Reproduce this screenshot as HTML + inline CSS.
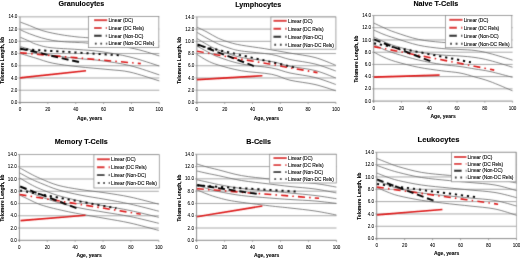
<!DOCTYPE html>
<html><head><meta charset="utf-8"><style>
html,body{margin:0;padding:0;background:#fff;overflow:hidden;}
svg{display:block;will-change:transform;}
text{font-family:"Liberation Sans", sans-serif;fill:#000;stroke:#000;stroke-width:0;}
.lg{stroke-width:0.08px;}
.tk{stroke-width:0.05px;}
.ax{stroke-width:0.08px;}
.ti{stroke-width:0.1px;}
</style></head><body>
<svg width="520" height="258" viewBox="0 0 520 258">
<defs><filter id="bl" filterUnits="userSpaceOnUse" x="0" y="0" width="520" height="258"><feConvolveMatrix order="3" kernelMatrix="0.0144 0.0912 0.0144 0.0912 0.5776 0.0912 0.0144 0.0912 0.0144" edgeMode="none"/></filter></defs>
<rect width="520" height="258" fill="#fff"/>
<g filter="url(#bl)">
<line x1="20.00" y1="90.22" x2="159.30" y2="90.22" stroke="#a8a8a8" stroke-width="1"/>
<line x1="20.00" y1="77.99" x2="159.30" y2="77.99" stroke="#a8a8a8" stroke-width="1"/>
<line x1="20.00" y1="65.76" x2="159.30" y2="65.76" stroke="#a8a8a8" stroke-width="1"/>
<line x1="20.00" y1="53.54" x2="159.30" y2="53.54" stroke="#a8a8a8" stroke-width="1"/>
<line x1="20.00" y1="41.31" x2="159.30" y2="41.31" stroke="#a8a8a8" stroke-width="1"/>
<line x1="20.00" y1="29.08" x2="159.30" y2="29.08" stroke="#a8a8a8" stroke-width="1"/>
<line x1="20.00" y1="16.85" x2="159.30" y2="16.85" stroke="#a8a8a8" stroke-width="1"/>
<path d="M20.30 22.10 C21.85 22.68 26.10 24.23 29.60 25.60 C33.10 26.97 37.42 29.03 41.30 30.30 C45.18 31.57 49.03 32.37 52.90 33.20 C56.77 34.03 60.32 34.67 64.50 35.30 C68.68 35.93 74.02 36.58 78.00 37.00 C81.98 37.42 79.73 37.13 88.40 37.80 C97.07 38.47 118.18 39.63 130.00 41.00 C141.82 42.37 154.42 45.17 159.30 46.00" fill="none" stroke="#666666" stroke-width="0.8"/>
<path d="M20.30 29.80 C21.85 30.47 26.10 32.47 29.60 33.80 C33.10 35.13 37.42 36.68 41.30 37.80 C45.18 38.92 49.03 39.83 52.90 40.50 C56.77 41.17 60.32 41.47 64.50 41.80 C68.68 42.13 74.02 42.27 78.00 42.50 C81.98 42.73 79.73 42.32 88.40 43.20 C97.07 44.08 118.18 45.68 130.00 47.80 C141.82 49.92 154.42 54.55 159.30 55.90" fill="none" stroke="#666666" stroke-width="0.8"/>
<path d="M20.30 37.30 C21.85 37.97 27.08 40.18 29.60 41.30 C32.12 42.42 32.00 42.95 35.40 44.00 C38.80 45.05 42.90 46.68 50.00 47.60 C57.10 48.52 69.67 48.85 78.00 49.50 C86.33 50.15 91.33 50.25 100.00 51.50 C108.67 52.75 120.12 54.58 130.00 57.00 C139.88 59.42 154.42 64.50 159.30 66.00" fill="none" stroke="#666666" stroke-width="0.8"/>
<path d="M20.30 46.50 C22.75 47.25 30.05 49.58 35.00 51.00 C39.95 52.42 42.83 53.75 50.00 55.00 C57.17 56.25 69.67 57.58 78.00 58.50 C86.33 59.42 91.33 59.32 100.00 60.50 C108.67 61.68 120.12 63.20 130.00 65.60 C139.88 68.00 154.42 73.35 159.30 74.90" fill="none" stroke="#666666" stroke-width="0.8"/>
<path d="M20.30 53.60 C22.82 54.33 29.97 56.40 35.40 58.00 C40.83 59.60 45.80 61.75 52.90 63.20 C60.00 64.65 68.82 65.65 78.00 66.70 C87.18 67.75 99.33 68.60 108.00 69.50 C116.67 70.40 121.45 70.20 130.00 72.10 C138.55 74.00 154.42 79.43 159.30 80.90" fill="none" stroke="#666666" stroke-width="0.8"/>
<line x1="20.00" y1="16.85" x2="20.00" y2="103.95" stroke="#8a8a8a" stroke-width="1"/>
<line x1="18.50" y1="102.45" x2="159.30" y2="102.45" stroke="#8a8a8a" stroke-width="1"/>
<line x1="18.50" y1="102.45" x2="20.00" y2="102.45" stroke="#8a8a8a" stroke-width="0.8"/>
<line x1="18.50" y1="90.22" x2="20.00" y2="90.22" stroke="#8a8a8a" stroke-width="0.8"/>
<line x1="18.50" y1="77.99" x2="20.00" y2="77.99" stroke="#8a8a8a" stroke-width="0.8"/>
<line x1="18.50" y1="65.76" x2="20.00" y2="65.76" stroke="#8a8a8a" stroke-width="0.8"/>
<line x1="18.50" y1="53.54" x2="20.00" y2="53.54" stroke="#8a8a8a" stroke-width="0.8"/>
<line x1="18.50" y1="41.31" x2="20.00" y2="41.31" stroke="#8a8a8a" stroke-width="0.8"/>
<line x1="18.50" y1="29.08" x2="20.00" y2="29.08" stroke="#8a8a8a" stroke-width="0.8"/>
<line x1="18.50" y1="16.85" x2="20.00" y2="16.85" stroke="#8a8a8a" stroke-width="0.8"/>
<line x1="20.00" y1="102.45" x2="20.00" y2="103.95" stroke="#8a8a8a" stroke-width="0.8"/>
<line x1="47.86" y1="102.45" x2="47.86" y2="103.95" stroke="#8a8a8a" stroke-width="0.8"/>
<line x1="75.72" y1="102.45" x2="75.72" y2="103.95" stroke="#8a8a8a" stroke-width="0.8"/>
<line x1="103.58" y1="102.45" x2="103.58" y2="103.95" stroke="#8a8a8a" stroke-width="0.8"/>
<line x1="131.44" y1="102.45" x2="131.44" y2="103.95" stroke="#8a8a8a" stroke-width="0.8"/>
<line x1="159.30" y1="102.45" x2="159.30" y2="103.95" stroke="#8a8a8a" stroke-width="0.8"/>
<line x1="20.00" y1="77.90" x2="86.00" y2="70.70" stroke="#dc1414" stroke-width="1.6"/>
<line x1="20.00" y1="52.70" x2="140.80" y2="63.60" stroke="#dc1414" stroke-width="1.6" stroke-dasharray="7 4.2 1.5 4.2"/>
<line x1="20.00" y1="48.50" x2="79.90" y2="62.30" stroke="#000" stroke-width="2.0" stroke-dasharray="7 3.7"/>
<line x1="20.00" y1="49.10" x2="120.70" y2="55.30" stroke="#000" stroke-width="2.0" stroke-dasharray="2.2 3.85"/>
<rect x="88.40" y="16.40" width="70.40" height="31.20" fill="#fff" stroke="#8a8a8a" stroke-width="0.8"/>
<line x1="94.00" y1="20.20" x2="107.20" y2="20.20" stroke="#dc1414" stroke-width="1.9"/>
<line x1="94.00" y1="28.00" x2="107.20" y2="28.00" stroke="#dc1414" stroke-width="1.9" stroke-dasharray="7.6 4.2 1.2 10"/>
<line x1="94.00" y1="35.80" x2="107.20" y2="35.80" stroke="#000" stroke-width="1.9" stroke-dasharray="7.6 4.2 1.2 10"/>
<line x1="94.00" y1="43.60" x2="107.20" y2="43.60" stroke="#000" stroke-width="1.9" stroke-dasharray="1.7 3.8" stroke-dashoffset="4.6"/>
<line x1="196.90" y1="90.19" x2="335.90" y2="90.19" stroke="#a8a8a8" stroke-width="1"/>
<line x1="196.90" y1="77.97" x2="335.90" y2="77.97" stroke="#a8a8a8" stroke-width="1"/>
<line x1="196.90" y1="65.76" x2="335.90" y2="65.76" stroke="#a8a8a8" stroke-width="1"/>
<line x1="196.90" y1="53.54" x2="335.90" y2="53.54" stroke="#a8a8a8" stroke-width="1"/>
<line x1="196.90" y1="41.33" x2="335.90" y2="41.33" stroke="#a8a8a8" stroke-width="1"/>
<line x1="196.90" y1="29.11" x2="335.90" y2="29.11" stroke="#a8a8a8" stroke-width="1"/>
<line x1="196.90" y1="16.90" x2="335.90" y2="16.90" stroke="#a8a8a8" stroke-width="1"/>
<path d="M197.00 27.20 C198.67 28.00 203.45 30.15 207.00 32.00 C210.55 33.85 214.47 36.55 218.30 38.30 C222.13 40.05 226.13 41.35 230.00 42.50 C233.87 43.65 235.70 44.17 241.50 45.20 C247.30 46.23 256.72 47.38 264.80 48.70 C272.88 50.02 281.63 51.63 290.00 53.10 C298.37 54.57 307.37 55.47 315.00 57.50 C322.63 59.53 332.33 64.00 335.80 65.30" fill="none" stroke="#666666" stroke-width="0.8"/>
<path d="M197.00 32.40 C198.67 33.37 203.45 36.27 207.00 38.20 C210.55 40.13 214.47 42.32 218.30 44.00 C222.13 45.68 226.13 47.13 230.00 48.30 C233.87 49.47 234.55 49.97 241.50 51.00 C248.45 52.03 263.62 53.08 271.70 54.50 C279.78 55.92 282.78 57.92 290.00 59.50 C297.22 61.08 307.37 62.08 315.00 64.00 C322.63 65.92 332.33 69.83 335.80 71.00" fill="none" stroke="#666666" stroke-width="0.8"/>
<path d="M197.00 38.50 C198.67 39.50 203.45 42.58 207.00 44.50 C210.55 46.42 212.55 47.83 218.30 50.00 C224.05 52.17 232.60 55.58 241.50 57.50 C250.40 59.42 263.62 60.03 271.70 61.50 C279.78 62.97 282.78 64.80 290.00 66.30 C297.22 67.80 307.37 68.55 315.00 70.50 C322.63 72.45 332.33 76.75 335.80 78.00" fill="none" stroke="#666666" stroke-width="0.8"/>
<path d="M197.00 46.00 C198.67 46.92 203.45 49.67 207.00 51.50 C210.55 53.33 212.55 54.92 218.30 57.00 C224.05 59.08 232.60 62.17 241.50 64.00 C250.40 65.83 263.62 66.50 271.70 68.00 C279.78 69.50 282.78 71.42 290.00 73.00 C297.22 74.58 307.37 75.58 315.00 77.50 C322.63 79.42 332.33 83.33 335.80 84.50" fill="none" stroke="#666666" stroke-width="0.8"/>
<path d="M197.00 54.40 C198.67 55.42 203.45 58.73 207.00 60.50 C210.55 62.27 212.55 63.28 218.30 65.00 C224.05 66.72 232.60 69.25 241.50 70.80 C250.40 72.35 263.62 72.73 271.70 74.30 C279.78 75.87 282.78 78.50 290.00 80.20 C297.22 81.90 307.37 82.73 315.00 84.50 C322.63 86.27 332.33 89.75 335.80 90.80" fill="none" stroke="#666666" stroke-width="0.8"/>
<line x1="196.90" y1="16.90" x2="196.90" y2="103.90" stroke="#8a8a8a" stroke-width="1"/>
<line x1="195.40" y1="102.40" x2="335.90" y2="102.40" stroke="#8a8a8a" stroke-width="1"/>
<line x1="195.40" y1="102.40" x2="196.90" y2="102.40" stroke="#8a8a8a" stroke-width="0.8"/>
<line x1="195.40" y1="90.19" x2="196.90" y2="90.19" stroke="#8a8a8a" stroke-width="0.8"/>
<line x1="195.40" y1="77.97" x2="196.90" y2="77.97" stroke="#8a8a8a" stroke-width="0.8"/>
<line x1="195.40" y1="65.76" x2="196.90" y2="65.76" stroke="#8a8a8a" stroke-width="0.8"/>
<line x1="195.40" y1="53.54" x2="196.90" y2="53.54" stroke="#8a8a8a" stroke-width="0.8"/>
<line x1="195.40" y1="41.33" x2="196.90" y2="41.33" stroke="#8a8a8a" stroke-width="0.8"/>
<line x1="195.40" y1="29.11" x2="196.90" y2="29.11" stroke="#8a8a8a" stroke-width="0.8"/>
<line x1="195.40" y1="16.90" x2="196.90" y2="16.90" stroke="#8a8a8a" stroke-width="0.8"/>
<line x1="196.90" y1="102.40" x2="196.90" y2="103.90" stroke="#8a8a8a" stroke-width="0.8"/>
<line x1="224.70" y1="102.40" x2="224.70" y2="103.90" stroke="#8a8a8a" stroke-width="0.8"/>
<line x1="252.50" y1="102.40" x2="252.50" y2="103.90" stroke="#8a8a8a" stroke-width="0.8"/>
<line x1="280.30" y1="102.40" x2="280.30" y2="103.90" stroke="#8a8a8a" stroke-width="0.8"/>
<line x1="308.10" y1="102.40" x2="308.10" y2="103.90" stroke="#8a8a8a" stroke-width="0.8"/>
<line x1="335.90" y1="102.40" x2="335.90" y2="103.90" stroke="#8a8a8a" stroke-width="0.8"/>
<line x1="196.90" y1="79.60" x2="262.40" y2="75.80" stroke="#dc1414" stroke-width="1.6"/>
<line x1="196.90" y1="51.30" x2="317.50" y2="72.60" stroke="#dc1414" stroke-width="1.6" stroke-dasharray="7 4.2 1.5 4.2"/>
<line x1="197.50" y1="44.40" x2="256.60" y2="67.10" stroke="#000" stroke-width="2.0" stroke-dasharray="7 3.7"/>
<line x1="197.50" y1="45.30" x2="294.70" y2="67.40" stroke="#000" stroke-width="2.0" stroke-dasharray="2.2 3.85"/>
<rect x="270.90" y="17.00" width="65.00" height="32.20" fill="#fff" stroke="#8a8a8a" stroke-width="0.8"/>
<line x1="273.50" y1="20.80" x2="286.70" y2="20.80" stroke="#dc1414" stroke-width="1.9"/>
<line x1="273.50" y1="28.80" x2="286.70" y2="28.80" stroke="#dc1414" stroke-width="1.9" stroke-dasharray="7.6 4.2 1.2 10"/>
<line x1="273.50" y1="36.80" x2="286.70" y2="36.80" stroke="#000" stroke-width="1.9" stroke-dasharray="7.6 4.2 1.2 10"/>
<line x1="273.50" y1="44.80" x2="286.70" y2="44.80" stroke="#000" stroke-width="1.9" stroke-dasharray="1.7 3.8" stroke-dashoffset="4.6"/>
<line x1="373.70" y1="88.87" x2="512.60" y2="88.87" stroke="#a8a8a8" stroke-width="1"/>
<line x1="373.70" y1="76.64" x2="512.60" y2="76.64" stroke="#a8a8a8" stroke-width="1"/>
<line x1="373.70" y1="64.41" x2="512.60" y2="64.41" stroke="#a8a8a8" stroke-width="1"/>
<line x1="373.70" y1="52.19" x2="512.60" y2="52.19" stroke="#a8a8a8" stroke-width="1"/>
<line x1="373.70" y1="39.96" x2="512.60" y2="39.96" stroke="#a8a8a8" stroke-width="1"/>
<line x1="373.70" y1="27.73" x2="512.60" y2="27.73" stroke="#a8a8a8" stroke-width="1"/>
<line x1="373.70" y1="15.50" x2="512.60" y2="15.50" stroke="#a8a8a8" stroke-width="1"/>
<path d="M373.90 23.10 C375.58 23.88 380.43 26.25 384.00 27.80 C387.57 29.35 389.55 30.47 395.30 32.40 C401.05 34.33 410.75 37.75 418.50 39.40 C426.25 41.05 433.22 41.53 441.80 42.30 C450.38 43.07 461.97 43.47 470.00 44.00 C478.03 44.53 482.92 44.92 490.00 45.50 C497.08 46.08 508.75 47.17 512.50 47.50" fill="none" stroke="#666666" stroke-width="0.8"/>
<path d="M373.90 30.10 C375.58 30.83 380.43 33.13 384.00 34.50 C387.57 35.87 389.55 36.52 395.30 38.30 C401.05 40.08 410.75 43.50 418.50 45.20 C426.25 46.90 434.88 47.78 441.80 48.50 C448.72 49.22 454.47 49.17 460.00 49.50 C465.53 49.83 470.00 49.83 475.00 50.50 C480.00 51.17 483.75 51.90 490.00 53.50 C496.25 55.10 508.75 59.00 512.50 60.10" fill="none" stroke="#666666" stroke-width="0.8"/>
<path d="M373.90 37.10 C375.58 37.88 380.43 40.32 384.00 41.80 C387.57 43.28 389.55 44.30 395.30 46.00 C401.05 47.70 410.75 50.50 418.50 52.00 C426.25 53.50 434.88 54.33 441.80 55.00 C448.72 55.67 454.47 55.58 460.00 56.00 C465.53 56.42 470.00 56.75 475.00 57.50 C480.00 58.25 483.75 58.88 490.00 60.50 C496.25 62.12 508.75 66.08 512.50 67.20" fill="none" stroke="#666666" stroke-width="0.8"/>
<path d="M373.90 44.50 C375.58 45.33 380.43 48.00 384.00 49.50 C387.57 51.00 389.55 51.75 395.30 53.50 C401.05 55.25 410.75 58.17 418.50 60.00 C426.25 61.83 434.88 63.42 441.80 64.50 C448.72 65.58 454.47 65.75 460.00 66.50 C465.53 67.25 470.00 68.17 475.00 69.00 C480.00 69.83 483.75 70.12 490.00 71.50 C496.25 72.88 508.75 76.33 512.50 77.30" fill="none" stroke="#666666" stroke-width="0.8"/>
<path d="M373.90 52.20 C375.58 53.05 380.43 55.75 384.00 57.30 C387.57 58.85 389.55 59.83 395.30 61.50 C401.05 63.17 410.75 65.75 418.50 67.30 C426.25 68.85 434.88 69.85 441.80 70.80 C448.72 71.75 454.47 71.97 460.00 73.00 C465.53 74.03 470.00 75.58 475.00 77.00 C480.00 78.42 483.75 79.20 490.00 81.50 C496.25 83.80 508.75 89.25 512.50 90.80" fill="none" stroke="#666666" stroke-width="0.8"/>
<line x1="373.70" y1="15.50" x2="373.70" y2="102.60" stroke="#8a8a8a" stroke-width="1"/>
<line x1="372.20" y1="101.10" x2="512.60" y2="101.10" stroke="#8a8a8a" stroke-width="1"/>
<line x1="372.20" y1="101.10" x2="373.70" y2="101.10" stroke="#8a8a8a" stroke-width="0.8"/>
<line x1="372.20" y1="88.87" x2="373.70" y2="88.87" stroke="#8a8a8a" stroke-width="0.8"/>
<line x1="372.20" y1="76.64" x2="373.70" y2="76.64" stroke="#8a8a8a" stroke-width="0.8"/>
<line x1="372.20" y1="64.41" x2="373.70" y2="64.41" stroke="#8a8a8a" stroke-width="0.8"/>
<line x1="372.20" y1="52.19" x2="373.70" y2="52.19" stroke="#8a8a8a" stroke-width="0.8"/>
<line x1="372.20" y1="39.96" x2="373.70" y2="39.96" stroke="#8a8a8a" stroke-width="0.8"/>
<line x1="372.20" y1="27.73" x2="373.70" y2="27.73" stroke="#8a8a8a" stroke-width="0.8"/>
<line x1="372.20" y1="15.50" x2="373.70" y2="15.50" stroke="#8a8a8a" stroke-width="0.8"/>
<line x1="373.70" y1="101.10" x2="373.70" y2="102.60" stroke="#8a8a8a" stroke-width="0.8"/>
<line x1="401.48" y1="101.10" x2="401.48" y2="102.60" stroke="#8a8a8a" stroke-width="0.8"/>
<line x1="429.26" y1="101.10" x2="429.26" y2="102.60" stroke="#8a8a8a" stroke-width="0.8"/>
<line x1="457.04" y1="101.10" x2="457.04" y2="102.60" stroke="#8a8a8a" stroke-width="0.8"/>
<line x1="484.82" y1="101.10" x2="484.82" y2="102.60" stroke="#8a8a8a" stroke-width="0.8"/>
<line x1="512.60" y1="101.10" x2="512.60" y2="102.60" stroke="#8a8a8a" stroke-width="0.8"/>
<line x1="373.90" y1="77.10" x2="439.60" y2="75.10" stroke="#dc1414" stroke-width="1.6"/>
<line x1="373.90" y1="46.60" x2="494.20" y2="70.10" stroke="#dc1414" stroke-width="1.6" stroke-dasharray="7 4.2 1.5 4.2"/>
<line x1="373.90" y1="39.40" x2="433.60" y2="62.40" stroke="#000" stroke-width="2.0" stroke-dasharray="7 3.7"/>
<line x1="373.90" y1="43.30" x2="470.90" y2="62.30" stroke="#000" stroke-width="2.0" stroke-dasharray="2.2 3.85"/>
<rect x="445.40" y="15.40" width="66.40" height="32.30" fill="#fff" stroke="#8a8a8a" stroke-width="0.8"/>
<line x1="449.30" y1="19.80" x2="462.50" y2="19.80" stroke="#dc1414" stroke-width="1.9"/>
<line x1="449.30" y1="27.80" x2="462.50" y2="27.80" stroke="#dc1414" stroke-width="1.9" stroke-dasharray="7.6 4.2 1.2 10"/>
<line x1="449.30" y1="35.80" x2="462.50" y2="35.80" stroke="#000" stroke-width="1.9" stroke-dasharray="7.6 4.2 1.2 10"/>
<line x1="449.30" y1="43.80" x2="462.50" y2="43.80" stroke="#000" stroke-width="1.9" stroke-dasharray="1.7 3.8" stroke-dashoffset="4.6"/>
<line x1="19.40" y1="228.04" x2="158.80" y2="228.04" stroke="#a8a8a8" stroke-width="1"/>
<line x1="19.40" y1="215.79" x2="158.80" y2="215.79" stroke="#a8a8a8" stroke-width="1"/>
<line x1="19.40" y1="203.53" x2="158.80" y2="203.53" stroke="#a8a8a8" stroke-width="1"/>
<line x1="19.40" y1="191.27" x2="158.80" y2="191.27" stroke="#a8a8a8" stroke-width="1"/>
<line x1="19.40" y1="179.01" x2="158.80" y2="179.01" stroke="#a8a8a8" stroke-width="1"/>
<line x1="19.40" y1="166.76" x2="158.80" y2="166.76" stroke="#a8a8a8" stroke-width="1"/>
<line x1="19.40" y1="154.50" x2="158.80" y2="154.50" stroke="#a8a8a8" stroke-width="1"/>
<path d="M19.50 167.70 C21.25 168.67 26.53 171.70 30.00 173.50 C33.47 175.30 35.63 176.53 40.30 178.50 C44.97 180.47 51.38 183.47 58.00 185.30 C64.62 187.13 72.17 188.25 80.00 189.50 C87.83 190.75 96.67 191.55 105.00 192.80 C113.33 194.05 121.03 195.10 130.00 197.00 C138.97 198.90 154.00 203.00 158.80 204.20" fill="none" stroke="#666666" stroke-width="0.8"/>
<path d="M19.50 172.80 C21.25 173.75 26.53 176.80 30.00 178.50 C33.47 180.20 35.63 181.12 40.30 183.00 C44.97 184.88 51.38 187.80 58.00 189.80 C64.62 191.80 72.17 193.42 80.00 195.00 C87.83 196.58 96.67 197.80 105.00 199.30 C113.33 200.80 121.03 202.02 130.00 204.00 C138.97 205.98 154.00 210.00 158.80 211.20" fill="none" stroke="#666666" stroke-width="0.8"/>
<path d="M19.50 177.80 C21.25 178.83 26.53 182.13 30.00 184.00 C33.47 185.87 35.63 187.08 40.30 189.00 C44.97 190.92 51.38 193.50 58.00 195.50 C64.62 197.50 72.17 199.25 80.00 201.00 C87.83 202.75 96.67 204.42 105.00 206.00 C113.33 207.58 121.03 208.62 130.00 210.50 C138.97 212.38 154.00 216.17 158.80 217.30" fill="none" stroke="#666666" stroke-width="0.8"/>
<path d="M19.50 186.00 C21.25 187.00 26.53 190.25 30.00 192.00 C33.47 193.75 35.63 194.75 40.30 196.50 C44.97 198.25 51.38 200.58 58.00 202.50 C64.62 204.42 72.17 206.37 80.00 208.00 C87.83 209.63 96.67 210.88 105.00 212.30 C113.33 213.72 121.03 214.67 130.00 216.50 C138.97 218.33 154.00 222.17 158.80 223.30" fill="none" stroke="#666666" stroke-width="0.8"/>
<path d="M19.50 195.00 C21.25 195.83 26.83 198.50 30.00 200.00 C33.17 201.50 35.17 202.75 38.50 204.00 C41.83 205.25 45.58 206.33 50.00 207.50 C54.42 208.67 60.00 209.92 65.00 211.00 C70.00 212.08 73.33 212.77 80.00 214.00 C86.67 215.23 96.67 216.90 105.00 218.40 C113.33 219.90 121.03 221.00 130.00 223.00 C138.97 225.00 154.00 229.17 158.80 230.40" fill="none" stroke="#666666" stroke-width="0.8"/>
<line x1="19.40" y1="154.50" x2="19.40" y2="241.80" stroke="#8a8a8a" stroke-width="1"/>
<line x1="17.90" y1="240.30" x2="158.80" y2="240.30" stroke="#8a8a8a" stroke-width="1"/>
<line x1="17.90" y1="240.30" x2="19.40" y2="240.30" stroke="#8a8a8a" stroke-width="0.8"/>
<line x1="17.90" y1="228.04" x2="19.40" y2="228.04" stroke="#8a8a8a" stroke-width="0.8"/>
<line x1="17.90" y1="215.79" x2="19.40" y2="215.79" stroke="#8a8a8a" stroke-width="0.8"/>
<line x1="17.90" y1="203.53" x2="19.40" y2="203.53" stroke="#8a8a8a" stroke-width="0.8"/>
<line x1="17.90" y1="191.27" x2="19.40" y2="191.27" stroke="#8a8a8a" stroke-width="0.8"/>
<line x1="17.90" y1="179.01" x2="19.40" y2="179.01" stroke="#8a8a8a" stroke-width="0.8"/>
<line x1="17.90" y1="166.76" x2="19.40" y2="166.76" stroke="#8a8a8a" stroke-width="0.8"/>
<line x1="17.90" y1="154.50" x2="19.40" y2="154.50" stroke="#8a8a8a" stroke-width="0.8"/>
<line x1="19.40" y1="240.30" x2="19.40" y2="241.80" stroke="#8a8a8a" stroke-width="0.8"/>
<line x1="47.28" y1="240.30" x2="47.28" y2="241.80" stroke="#8a8a8a" stroke-width="0.8"/>
<line x1="75.16" y1="240.30" x2="75.16" y2="241.80" stroke="#8a8a8a" stroke-width="0.8"/>
<line x1="103.04" y1="240.30" x2="103.04" y2="241.80" stroke="#8a8a8a" stroke-width="0.8"/>
<line x1="130.92" y1="240.30" x2="130.92" y2="241.80" stroke="#8a8a8a" stroke-width="0.8"/>
<line x1="158.80" y1="240.30" x2="158.80" y2="241.80" stroke="#8a8a8a" stroke-width="0.8"/>
<line x1="20.50" y1="220.60" x2="85.60" y2="215.20" stroke="#dc1414" stroke-width="1.6"/>
<line x1="19.50" y1="194.50" x2="140.80" y2="214.20" stroke="#dc1414" stroke-width="1.6" stroke-dasharray="7 4.2 1.5 4.2"/>
<line x1="20.00" y1="186.50" x2="79.80" y2="209.40" stroke="#000" stroke-width="2.0" stroke-dasharray="7 3.7"/>
<line x1="20.00" y1="190.50" x2="116.40" y2="208.30" stroke="#000" stroke-width="2.0" stroke-dasharray="2.2 3.85"/>
<rect x="93.90" y="154.70" width="65.40" height="33.30" fill="#fff" stroke="#8a8a8a" stroke-width="0.8"/>
<line x1="96.90" y1="159.30" x2="109.90" y2="159.30" stroke="#dc1414" stroke-width="1.9"/>
<line x1="96.90" y1="167.20" x2="109.90" y2="167.20" stroke="#dc1414" stroke-width="1.9" stroke-dasharray="7.6 4.2 1.2 10"/>
<line x1="96.90" y1="175.10" x2="109.90" y2="175.10" stroke="#000" stroke-width="1.9" stroke-dasharray="7.6 4.2 1.2 10"/>
<line x1="96.90" y1="183.00" x2="109.90" y2="183.00" stroke="#000" stroke-width="1.9" stroke-dasharray="1.7 3.8" stroke-dashoffset="4.6"/>
<line x1="196.60" y1="228.01" x2="336.50" y2="228.01" stroke="#a8a8a8" stroke-width="1"/>
<line x1="196.60" y1="215.73" x2="336.50" y2="215.73" stroke="#a8a8a8" stroke-width="1"/>
<line x1="196.60" y1="203.44" x2="336.50" y2="203.44" stroke="#a8a8a8" stroke-width="1"/>
<line x1="196.60" y1="191.16" x2="336.50" y2="191.16" stroke="#a8a8a8" stroke-width="1"/>
<line x1="196.60" y1="178.87" x2="336.50" y2="178.87" stroke="#a8a8a8" stroke-width="1"/>
<line x1="196.60" y1="166.59" x2="336.50" y2="166.59" stroke="#a8a8a8" stroke-width="1"/>
<line x1="196.60" y1="154.30" x2="336.50" y2="154.30" stroke="#a8a8a8" stroke-width="1"/>
<path d="M196.90 164.00 C198.58 164.50 203.43 166.03 207.00 167.00 C210.57 167.97 212.55 168.37 218.30 169.80 C224.05 171.23 232.98 174.07 241.50 175.60 C250.02 177.13 261.32 178.02 269.40 179.00 C277.48 179.98 282.40 180.75 290.00 181.50 C297.60 182.25 307.27 182.57 315.00 183.50 C322.73 184.43 332.83 186.50 336.40 187.10" fill="none" stroke="#666666" stroke-width="0.8"/>
<path d="M196.90 171.00 C198.58 171.38 203.43 172.53 207.00 173.30 C210.57 174.07 212.55 174.40 218.30 175.60 C224.05 176.80 232.98 179.10 241.50 180.50 C250.02 181.90 261.32 183.00 269.40 184.00 C277.48 185.00 282.40 185.67 290.00 186.50 C297.60 187.33 307.27 187.93 315.00 189.00 C322.73 190.07 332.83 192.25 336.40 192.90" fill="none" stroke="#666666" stroke-width="0.8"/>
<path d="M196.90 179.80 C198.58 180.17 203.43 181.22 207.00 182.00 C210.57 182.78 212.55 183.42 218.30 184.50 C224.05 185.58 232.98 187.42 241.50 188.50 C250.02 189.58 261.32 190.25 269.40 191.00 C277.48 191.75 282.40 192.25 290.00 193.00 C297.60 193.75 307.27 194.55 315.00 195.50 C322.73 196.45 332.83 198.17 336.40 198.70" fill="none" stroke="#666666" stroke-width="0.8"/>
<path d="M196.90 185.00 C198.58 185.58 203.43 187.42 207.00 188.50 C210.57 189.58 212.55 190.33 218.30 191.50 C224.05 192.67 232.98 194.42 241.50 195.50 C250.02 196.58 261.32 197.33 269.40 198.00 C277.48 198.67 282.40 199.00 290.00 199.50 C297.60 200.00 307.27 200.35 315.00 201.00 C322.73 201.65 332.83 203.00 336.40 203.40" fill="none" stroke="#666666" stroke-width="0.8"/>
<path d="M196.90 189.80 C198.58 190.50 203.43 192.68 207.00 194.00 C210.57 195.32 213.72 196.48 218.30 197.70 C222.88 198.92 225.98 199.95 234.50 201.30 C243.02 202.65 260.15 204.68 269.40 205.80 C278.65 206.92 282.40 207.13 290.00 208.00 C297.60 208.87 307.27 209.83 315.00 211.00 C322.73 212.17 332.83 214.33 336.40 215.00" fill="none" stroke="#666666" stroke-width="0.8"/>
<line x1="196.60" y1="154.30" x2="196.60" y2="241.80" stroke="#8a8a8a" stroke-width="1"/>
<line x1="195.10" y1="240.30" x2="336.50" y2="240.30" stroke="#8a8a8a" stroke-width="1"/>
<line x1="195.10" y1="240.30" x2="196.60" y2="240.30" stroke="#8a8a8a" stroke-width="0.8"/>
<line x1="195.10" y1="228.01" x2="196.60" y2="228.01" stroke="#8a8a8a" stroke-width="0.8"/>
<line x1="195.10" y1="215.73" x2="196.60" y2="215.73" stroke="#8a8a8a" stroke-width="0.8"/>
<line x1="195.10" y1="203.44" x2="196.60" y2="203.44" stroke="#8a8a8a" stroke-width="0.8"/>
<line x1="195.10" y1="191.16" x2="196.60" y2="191.16" stroke="#8a8a8a" stroke-width="0.8"/>
<line x1="195.10" y1="178.87" x2="196.60" y2="178.87" stroke="#8a8a8a" stroke-width="0.8"/>
<line x1="195.10" y1="166.59" x2="196.60" y2="166.59" stroke="#8a8a8a" stroke-width="0.8"/>
<line x1="195.10" y1="154.30" x2="196.60" y2="154.30" stroke="#8a8a8a" stroke-width="0.8"/>
<line x1="196.60" y1="240.30" x2="196.60" y2="241.80" stroke="#8a8a8a" stroke-width="0.8"/>
<line x1="224.58" y1="240.30" x2="224.58" y2="241.80" stroke="#8a8a8a" stroke-width="0.8"/>
<line x1="252.56" y1="240.30" x2="252.56" y2="241.80" stroke="#8a8a8a" stroke-width="0.8"/>
<line x1="280.54" y1="240.30" x2="280.54" y2="241.80" stroke="#8a8a8a" stroke-width="0.8"/>
<line x1="308.52" y1="240.30" x2="308.52" y2="241.80" stroke="#8a8a8a" stroke-width="0.8"/>
<line x1="336.50" y1="240.30" x2="336.50" y2="241.80" stroke="#8a8a8a" stroke-width="0.8"/>
<line x1="196.90" y1="216.70" x2="262.40" y2="206.00" stroke="#dc1414" stroke-width="1.6"/>
<line x1="196.90" y1="188.70" x2="319.00" y2="198.30" stroke="#dc1414" stroke-width="1.6" stroke-dasharray="7 4.2 1.5 4.2"/>
<line x1="196.90" y1="185.00" x2="257.80" y2="194.00" stroke="#000" stroke-width="2.0" stroke-dasharray="7 3.7"/>
<line x1="196.90" y1="185.40" x2="296.00" y2="191.60" stroke="#000" stroke-width="2.0" stroke-dasharray="2.2 3.85"/>
<rect x="269.70" y="154.30" width="66.60" height="28.70" fill="#fff" stroke="#8a8a8a" stroke-width="0.8"/>
<line x1="273.50" y1="158.10" x2="286.70" y2="158.10" stroke="#dc1414" stroke-width="1.9"/>
<line x1="273.50" y1="165.10" x2="286.70" y2="165.10" stroke="#dc1414" stroke-width="1.9" stroke-dasharray="7.6 4.2 1.2 10"/>
<line x1="273.50" y1="172.10" x2="286.70" y2="172.10" stroke="#000" stroke-width="1.9" stroke-dasharray="7.6 4.2 1.2 10"/>
<line x1="273.50" y1="179.10" x2="286.70" y2="179.10" stroke="#000" stroke-width="1.9" stroke-dasharray="1.7 3.8" stroke-dashoffset="4.6"/>
<line x1="376.70" y1="226.27" x2="516.50" y2="226.27" stroke="#a8a8a8" stroke-width="1"/>
<line x1="376.70" y1="213.94" x2="516.50" y2="213.94" stroke="#a8a8a8" stroke-width="1"/>
<line x1="376.70" y1="201.61" x2="516.50" y2="201.61" stroke="#a8a8a8" stroke-width="1"/>
<line x1="376.70" y1="189.29" x2="516.50" y2="189.29" stroke="#a8a8a8" stroke-width="1"/>
<line x1="376.70" y1="176.96" x2="516.50" y2="176.96" stroke="#a8a8a8" stroke-width="1"/>
<line x1="376.70" y1="164.63" x2="516.50" y2="164.63" stroke="#a8a8a8" stroke-width="1"/>
<line x1="376.70" y1="152.30" x2="516.50" y2="152.30" stroke="#a8a8a8" stroke-width="1"/>
<line x1="516.50" y1="152.30" x2="516.50" y2="238.60" stroke="#a8a8a8" stroke-width="0.8"/>
<path d="M376.90 158.50 C378.58 159.17 383.43 161.15 387.00 162.50 C390.57 163.85 392.55 164.95 398.30 166.60 C404.05 168.25 412.98 170.93 421.50 172.40 C430.02 173.87 441.32 174.63 449.40 175.40 C457.48 176.17 462.40 176.40 470.00 177.00 C477.60 177.60 487.25 178.00 495.00 179.00 C502.75 180.00 512.92 182.33 516.50 183.00" fill="none" stroke="#666666" stroke-width="0.8"/>
<path d="M376.90 165.40 C378.58 166.00 383.43 167.83 387.00 169.00 C390.57 170.17 392.55 170.98 398.30 172.40 C404.05 173.82 412.98 176.13 421.50 177.50 C430.02 178.87 441.32 179.77 449.40 180.60 C457.48 181.43 462.40 181.77 470.00 182.50 C477.60 183.23 487.25 183.65 495.00 185.00 C502.75 186.35 512.92 189.67 516.50 190.60" fill="none" stroke="#666666" stroke-width="0.8"/>
<path d="M376.90 173.10 C378.58 173.75 383.43 175.77 387.00 177.00 C390.57 178.23 392.55 179.17 398.30 180.50 C404.05 181.83 412.98 183.75 421.50 185.00 C430.02 186.25 441.32 187.17 449.40 188.00 C457.48 188.83 462.40 189.25 470.00 190.00 C477.60 190.75 487.25 191.23 495.00 192.50 C502.75 193.77 512.92 196.75 516.50 197.60" fill="none" stroke="#666666" stroke-width="0.8"/>
<path d="M376.90 180.50 C378.58 181.17 383.43 183.17 387.00 184.50 C390.57 185.83 392.55 187.08 398.30 188.50 C404.05 189.92 412.98 191.75 421.50 193.00 C430.02 194.25 441.32 195.17 449.40 196.00 C457.48 196.83 462.40 197.25 470.00 198.00 C477.60 198.75 487.25 199.17 495.00 200.50 C502.75 201.83 512.92 205.08 516.50 206.00" fill="none" stroke="#666666" stroke-width="0.8"/>
<path d="M376.90 187.50 C378.58 188.22 383.43 190.43 387.00 191.80 C390.57 193.17 392.55 194.28 398.30 195.70 C404.05 197.12 412.98 198.95 421.50 200.30 C430.02 201.65 441.32 202.85 449.40 203.80 C457.48 204.75 462.40 205.13 470.00 206.00 C477.60 206.87 487.25 207.45 495.00 209.00 C502.75 210.55 512.92 214.25 516.50 215.30" fill="none" stroke="#666666" stroke-width="0.8"/>
<line x1="376.70" y1="152.30" x2="376.70" y2="240.10" stroke="#8a8a8a" stroke-width="1"/>
<line x1="375.20" y1="238.60" x2="516.50" y2="238.60" stroke="#8a8a8a" stroke-width="1"/>
<line x1="375.20" y1="238.60" x2="376.70" y2="238.60" stroke="#8a8a8a" stroke-width="0.8"/>
<line x1="375.20" y1="226.27" x2="376.70" y2="226.27" stroke="#8a8a8a" stroke-width="0.8"/>
<line x1="375.20" y1="213.94" x2="376.70" y2="213.94" stroke="#8a8a8a" stroke-width="0.8"/>
<line x1="375.20" y1="201.61" x2="376.70" y2="201.61" stroke="#8a8a8a" stroke-width="0.8"/>
<line x1="375.20" y1="189.29" x2="376.70" y2="189.29" stroke="#8a8a8a" stroke-width="0.8"/>
<line x1="375.20" y1="176.96" x2="376.70" y2="176.96" stroke="#8a8a8a" stroke-width="0.8"/>
<line x1="375.20" y1="164.63" x2="376.70" y2="164.63" stroke="#8a8a8a" stroke-width="0.8"/>
<line x1="375.20" y1="152.30" x2="376.70" y2="152.30" stroke="#8a8a8a" stroke-width="0.8"/>
<line x1="376.70" y1="238.60" x2="376.70" y2="240.10" stroke="#8a8a8a" stroke-width="0.8"/>
<line x1="404.66" y1="238.60" x2="404.66" y2="240.10" stroke="#8a8a8a" stroke-width="0.8"/>
<line x1="432.62" y1="238.60" x2="432.62" y2="240.10" stroke="#8a8a8a" stroke-width="0.8"/>
<line x1="460.58" y1="238.60" x2="460.58" y2="240.10" stroke="#8a8a8a" stroke-width="0.8"/>
<line x1="488.54" y1="238.60" x2="488.54" y2="240.10" stroke="#8a8a8a" stroke-width="0.8"/>
<line x1="516.50" y1="238.60" x2="516.50" y2="240.10" stroke="#8a8a8a" stroke-width="0.8"/>
<line x1="376.90" y1="214.90" x2="442.40" y2="209.50" stroke="#dc1414" stroke-width="1.6"/>
<line x1="376.90" y1="187.10" x2="498.10" y2="204.20" stroke="#dc1414" stroke-width="1.6" stroke-dasharray="7 4.2 1.5 4.2"/>
<line x1="376.90" y1="179.40" x2="436.60" y2="201.80" stroke="#000" stroke-width="2.0" stroke-dasharray="7 3.7"/>
<line x1="376.90" y1="184.00" x2="475.00" y2="197.00" stroke="#000" stroke-width="2.0" stroke-dasharray="2.2 3.85"/>
<rect x="451.60" y="152.30" width="64.40" height="29.50" fill="#fff" stroke="#8a8a8a" stroke-width="0.8"/>
<line x1="454.00" y1="157.00" x2="466.40" y2="157.00" stroke="#dc1414" stroke-width="1.9"/>
<line x1="454.00" y1="163.85" x2="466.40" y2="163.85" stroke="#dc1414" stroke-width="1.9" stroke-dasharray="7.6 4.2 1.2 10"/>
<line x1="454.00" y1="170.70" x2="466.40" y2="170.70" stroke="#000" stroke-width="1.9" stroke-dasharray="7.6 4.2 1.2 10"/>
<line x1="454.00" y1="177.55" x2="466.40" y2="177.55" stroke="#000" stroke-width="1.9" stroke-dasharray="1.7 3.8" stroke-dashoffset="4.6"/>
</g>
<g>
<text x="108.40" y="21.90" font-size="4.9" letter-spacing="-0.06" class="lg">Linear (DC)</text>
<text x="108.40" y="29.70" font-size="4.9" letter-spacing="-0.06" class="lg">Linear (DC Rels)</text>
<text x="108.40" y="37.50" font-size="4.9" letter-spacing="-0.06" class="lg">Linear (Non-DC)</text>
<text x="108.40" y="45.30" font-size="4.9" letter-spacing="-0.06" class="lg">Linear (Non-DC Rels)</text>
<text x="17.40" y="104.05" font-size="4.6" text-anchor="end" class="tk">0.0</text>
<text x="17.40" y="91.82" font-size="4.6" text-anchor="end" class="tk">2.0</text>
<text x="17.40" y="79.59" font-size="4.6" text-anchor="end" class="tk">4.0</text>
<text x="17.40" y="67.36" font-size="4.6" text-anchor="end" class="tk">6.0</text>
<text x="17.40" y="55.14" font-size="4.6" text-anchor="end" class="tk">8.0</text>
<text x="17.40" y="42.91" font-size="4.6" text-anchor="end" class="tk">10.0</text>
<text x="17.40" y="30.68" font-size="4.6" text-anchor="end" class="tk">12.0</text>
<text x="17.40" y="18.45" font-size="4.6" text-anchor="end" class="tk">14.0</text>
<text x="20.00" y="111.05" font-size="4.6" text-anchor="middle" class="tk">0</text>
<text x="47.86" y="111.05" font-size="4.6" text-anchor="middle" class="tk">20</text>
<text x="75.72" y="111.05" font-size="4.6" text-anchor="middle" class="tk">40</text>
<text x="103.58" y="111.05" font-size="4.6" text-anchor="middle" class="tk">60</text>
<text x="131.44" y="111.05" font-size="4.6" text-anchor="middle" class="tk">80</text>
<text x="159.30" y="111.05" font-size="4.6" text-anchor="middle" class="tk">100</text>
<text x="89.65" y="119.65" font-size="5.0" font-weight="bold" text-anchor="middle" class="ax">Age, years</text>
<text transform="translate(4.20 60.35) rotate(-90)" font-size="4.85" font-weight="bold" text-anchor="middle" class="ax">Telomere Length, kb</text>
<text x="81.40" y="6.30" font-size="7.2" font-weight="bold" text-anchor="middle" class="ti">Granulocytes</text>
<text x="288.00" y="22.50" font-size="4.9" letter-spacing="-0.06" class="lg">Linear (DC)</text>
<text x="288.00" y="30.50" font-size="4.9" letter-spacing="-0.06" class="lg">Linear (DC Rels)</text>
<text x="288.00" y="38.50" font-size="4.9" letter-spacing="-0.06" class="lg">Linear (Non-DC)</text>
<text x="288.00" y="46.50" font-size="4.9" letter-spacing="-0.06" class="lg">Linear (Non-DC Rels)</text>
<text x="194.30" y="104.00" font-size="4.6" text-anchor="end" class="tk">0.0</text>
<text x="194.30" y="91.79" font-size="4.6" text-anchor="end" class="tk">2.0</text>
<text x="194.30" y="79.57" font-size="4.6" text-anchor="end" class="tk">4.0</text>
<text x="194.30" y="67.36" font-size="4.6" text-anchor="end" class="tk">6.0</text>
<text x="194.30" y="55.14" font-size="4.6" text-anchor="end" class="tk">8.0</text>
<text x="194.30" y="42.93" font-size="4.6" text-anchor="end" class="tk">10.0</text>
<text x="194.30" y="30.71" font-size="4.6" text-anchor="end" class="tk">12.0</text>
<text x="194.30" y="18.50" font-size="4.6" text-anchor="end" class="tk">14.0</text>
<text x="196.90" y="111.00" font-size="4.6" text-anchor="middle" class="tk">0</text>
<text x="224.70" y="111.00" font-size="4.6" text-anchor="middle" class="tk">20</text>
<text x="252.50" y="111.00" font-size="4.6" text-anchor="middle" class="tk">40</text>
<text x="280.30" y="111.00" font-size="4.6" text-anchor="middle" class="tk">60</text>
<text x="308.10" y="111.00" font-size="4.6" text-anchor="middle" class="tk">80</text>
<text x="335.90" y="111.00" font-size="4.6" text-anchor="middle" class="tk">100</text>
<text x="266.40" y="119.50" font-size="5.0" font-weight="bold" text-anchor="middle" class="ax">Age, years</text>
<text transform="translate(181.10 60.35) rotate(-90)" font-size="4.85" font-weight="bold" text-anchor="middle" class="ax">Telomere Length, kb</text>
<text x="258.30" y="6.90" font-size="7.2" font-weight="bold" text-anchor="middle" class="ti">Lymphocytes</text>
<text x="463.70" y="21.50" font-size="4.9" letter-spacing="-0.06" class="lg">Linear (DC)</text>
<text x="463.70" y="29.50" font-size="4.9" letter-spacing="-0.06" class="lg">Linear (DC Rels)</text>
<text x="463.70" y="37.50" font-size="4.9" letter-spacing="-0.06" class="lg">Linear (Non-DC)</text>
<text x="463.70" y="45.50" font-size="4.9" letter-spacing="-0.06" class="lg">Linear (Non-DC Rels)</text>
<text x="371.10" y="102.70" font-size="4.6" text-anchor="end" class="tk">0.0</text>
<text x="371.10" y="90.47" font-size="4.6" text-anchor="end" class="tk">2.0</text>
<text x="371.10" y="78.24" font-size="4.6" text-anchor="end" class="tk">4.0</text>
<text x="371.10" y="66.01" font-size="4.6" text-anchor="end" class="tk">6.0</text>
<text x="371.10" y="53.79" font-size="4.6" text-anchor="end" class="tk">8.0</text>
<text x="371.10" y="41.56" font-size="4.6" text-anchor="end" class="tk">10.0</text>
<text x="371.10" y="29.33" font-size="4.6" text-anchor="end" class="tk">12.0</text>
<text x="371.10" y="17.10" font-size="4.6" text-anchor="end" class="tk">14.0</text>
<text x="373.70" y="109.70" font-size="4.6" text-anchor="middle" class="tk">0</text>
<text x="401.48" y="109.70" font-size="4.6" text-anchor="middle" class="tk">20</text>
<text x="429.26" y="109.70" font-size="4.6" text-anchor="middle" class="tk">40</text>
<text x="457.04" y="109.70" font-size="4.6" text-anchor="middle" class="tk">60</text>
<text x="484.82" y="109.70" font-size="4.6" text-anchor="middle" class="tk">80</text>
<text x="512.60" y="109.70" font-size="4.6" text-anchor="middle" class="tk">100</text>
<text x="443.15" y="117.70" font-size="5.0" font-weight="bold" text-anchor="middle" class="ax">Age, years</text>
<text transform="translate(357.90 59.00) rotate(-90)" font-size="4.85" font-weight="bold" text-anchor="middle" class="ax">Telomere Length, kb</text>
<text x="435.80" y="5.50" font-size="7.2" font-weight="bold" text-anchor="middle" class="ti">Naive T-Cells</text>
<text x="111.00" y="161.00" font-size="4.9" letter-spacing="-0.06" class="lg">Linear (DC)</text>
<text x="111.00" y="168.90" font-size="4.9" letter-spacing="-0.06" class="lg">Linear (DC Rels)</text>
<text x="111.00" y="176.80" font-size="4.9" letter-spacing="-0.06" class="lg">Linear (Non-DC)</text>
<text x="111.00" y="184.70" font-size="4.9" letter-spacing="-0.06" class="lg">Linear (Non-DC Rels)</text>
<text x="16.80" y="241.90" font-size="4.6" text-anchor="end" class="tk">0.0</text>
<text x="16.80" y="229.64" font-size="4.6" text-anchor="end" class="tk">2.0</text>
<text x="16.80" y="217.39" font-size="4.6" text-anchor="end" class="tk">4.0</text>
<text x="16.80" y="205.13" font-size="4.6" text-anchor="end" class="tk">6.0</text>
<text x="16.80" y="192.87" font-size="4.6" text-anchor="end" class="tk">8.0</text>
<text x="16.80" y="180.61" font-size="4.6" text-anchor="end" class="tk">10.0</text>
<text x="16.80" y="168.36" font-size="4.6" text-anchor="end" class="tk">12.0</text>
<text x="16.80" y="156.10" font-size="4.6" text-anchor="end" class="tk">14.0</text>
<text x="19.40" y="248.90" font-size="4.6" text-anchor="middle" class="tk">0</text>
<text x="47.28" y="248.90" font-size="4.6" text-anchor="middle" class="tk">20</text>
<text x="75.16" y="248.90" font-size="4.6" text-anchor="middle" class="tk">40</text>
<text x="103.04" y="248.90" font-size="4.6" text-anchor="middle" class="tk">60</text>
<text x="130.92" y="248.90" font-size="4.6" text-anchor="middle" class="tk">80</text>
<text x="158.80" y="248.90" font-size="4.6" text-anchor="middle" class="tk">100</text>
<text x="89.10" y="256.70" font-size="5.0" font-weight="bold" text-anchor="middle" class="ax">Age, years</text>
<text transform="translate(3.60 198.10) rotate(-90)" font-size="4.85" font-weight="bold" text-anchor="middle" class="ax">Telomere Length, kb</text>
<text x="81.20" y="143.80" font-size="7.2" font-weight="bold" text-anchor="middle" class="ti">Memory T-Cells</text>
<text x="288.00" y="159.80" font-size="4.9" letter-spacing="-0.06" class="lg">Linear (DC)</text>
<text x="288.00" y="166.80" font-size="4.9" letter-spacing="-0.06" class="lg">Linear (DC Rels)</text>
<text x="288.00" y="173.80" font-size="4.9" letter-spacing="-0.06" class="lg">Linear (Non-DC)</text>
<text x="288.00" y="180.80" font-size="4.9" letter-spacing="-0.06" class="lg">Linear (Non-DC Rels)</text>
<text x="194.00" y="241.90" font-size="4.6" text-anchor="end" class="tk">0.0</text>
<text x="194.00" y="229.61" font-size="4.6" text-anchor="end" class="tk">2.0</text>
<text x="194.00" y="217.33" font-size="4.6" text-anchor="end" class="tk">4.0</text>
<text x="194.00" y="205.04" font-size="4.6" text-anchor="end" class="tk">6.0</text>
<text x="194.00" y="192.76" font-size="4.6" text-anchor="end" class="tk">8.0</text>
<text x="194.00" y="180.47" font-size="4.6" text-anchor="end" class="tk">10.0</text>
<text x="194.00" y="168.19" font-size="4.6" text-anchor="end" class="tk">12.0</text>
<text x="194.00" y="155.90" font-size="4.6" text-anchor="end" class="tk">14.0</text>
<text x="196.60" y="248.90" font-size="4.6" text-anchor="middle" class="tk">0</text>
<text x="224.58" y="248.90" font-size="4.6" text-anchor="middle" class="tk">20</text>
<text x="252.56" y="248.90" font-size="4.6" text-anchor="middle" class="tk">40</text>
<text x="280.54" y="248.90" font-size="4.6" text-anchor="middle" class="tk">60</text>
<text x="308.52" y="248.90" font-size="4.6" text-anchor="middle" class="tk">80</text>
<text x="336.50" y="248.90" font-size="4.6" text-anchor="middle" class="tk">100</text>
<text x="266.55" y="256.80" font-size="5.0" font-weight="bold" text-anchor="middle" class="ax">Age, years</text>
<text transform="translate(180.80 198.00) rotate(-90)" font-size="4.85" font-weight="bold" text-anchor="middle" class="ax">Telomere Length, kb</text>
<text x="258.70" y="143.50" font-size="7.2" font-weight="bold" text-anchor="middle" class="ti">B-Cells</text>
<text x="467.60" y="158.70" font-size="4.9" letter-spacing="-0.06" class="lg">Linear (DC)</text>
<text x="467.60" y="165.55" font-size="4.9" letter-spacing="-0.06" class="lg">Linear (DC Rels)</text>
<text x="467.60" y="172.40" font-size="4.9" letter-spacing="-0.06" class="lg">Linear (Non-DC)</text>
<text x="467.60" y="179.25" font-size="4.9" letter-spacing="-0.06" class="lg">Linear (Non-DC Rels)</text>
<text x="374.10" y="240.20" font-size="4.6" text-anchor="end" class="tk">0.0</text>
<text x="374.10" y="227.87" font-size="4.6" text-anchor="end" class="tk">2.0</text>
<text x="374.10" y="215.54" font-size="4.6" text-anchor="end" class="tk">4.0</text>
<text x="374.10" y="203.21" font-size="4.6" text-anchor="end" class="tk">6.0</text>
<text x="374.10" y="190.89" font-size="4.6" text-anchor="end" class="tk">8.0</text>
<text x="374.10" y="178.56" font-size="4.6" text-anchor="end" class="tk">10.0</text>
<text x="374.10" y="166.23" font-size="4.6" text-anchor="end" class="tk">12.0</text>
<text x="374.10" y="153.90" font-size="4.6" text-anchor="end" class="tk">14.0</text>
<text x="376.70" y="247.20" font-size="4.6" text-anchor="middle" class="tk">0</text>
<text x="404.66" y="247.20" font-size="4.6" text-anchor="middle" class="tk">20</text>
<text x="432.62" y="247.20" font-size="4.6" text-anchor="middle" class="tk">40</text>
<text x="460.58" y="247.20" font-size="4.6" text-anchor="middle" class="tk">60</text>
<text x="488.54" y="247.20" font-size="4.6" text-anchor="middle" class="tk">80</text>
<text x="516.50" y="247.20" font-size="4.6" text-anchor="middle" class="tk">100</text>
<text x="446.60" y="255.10" font-size="5.0" font-weight="bold" text-anchor="middle" class="ax">Age, years</text>
<text transform="translate(360.90 196.15) rotate(-90)" font-size="4.85" font-weight="bold" text-anchor="middle" class="ax">Telomere Length, kb</text>
<text x="438.50" y="142.20" font-size="7.6" font-weight="bold" text-anchor="middle" class="ti">Leukocytes</text>
</g>
</svg>
</body></html>
